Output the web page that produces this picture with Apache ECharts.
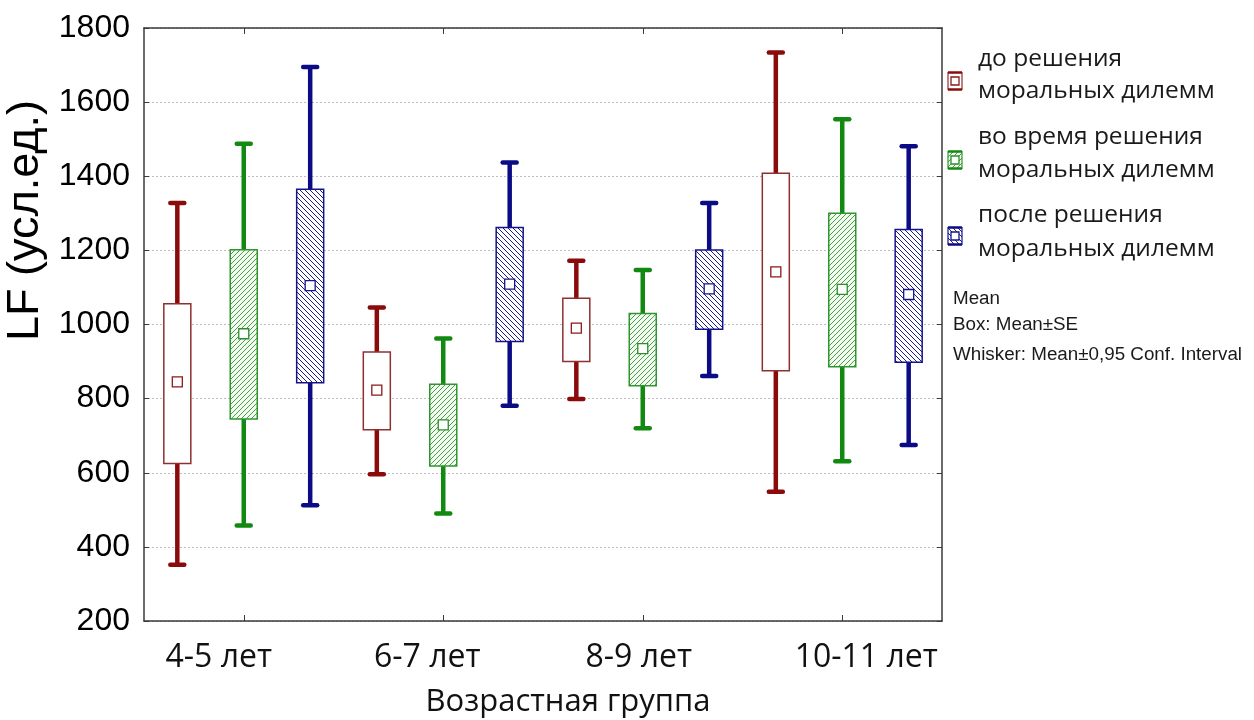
<!DOCTYPE html>
<html>
<head>
<meta charset="utf-8">
<title>LF по возрастным группам</title>
<script src="https://cdn.jsdelivr.net/npm/echarts@6/dist/echarts.min.js"></script>
<style>
  html, body { margin: 0; padding: 0; background: #ffffff; }
  #chart { width: 1254px; height: 720px; }
</style>
</head>
<body>
<div id="chart"></div>
<script>
// Age groups on the category axis
const ageGroups = ['4-5 лет', '6-7 лет', '8-9 лет', '10-11 лет'];

// Condition names (legend)
const conditionNames = [
  ['до решения', 'моральных дилемм'],
  ['во время решения', 'моральных дилемм'],
  ['после решения', 'моральных дилемм']
];

// Each row: [mean − 0.95 CI, mean − SE, mean, mean + SE, mean + 0.95 CI]
const beforeStats = [
  [352, 625, 845, 1056, 1328],
  [596, 716, 823, 926, 1046],
  [799, 900, 990, 1071, 1172],
  [549, 875, 1142, 1408, 1734]
];
const duringStats = [
  [458, 745, 975, 1202, 1488],
  [490, 618, 729, 839, 962],
  [720, 835, 935, 1030, 1147],
  [631, 886, 1095, 1300, 1554]
];
const afterStats = [
  [512, 843, 1105, 1365, 1695],
  [781, 954, 1109, 1262, 1437],
  [861, 987, 1096, 1201, 1328],
  [675, 898, 1081, 1256, 1481]
];

// Value axis range
const yMin = 200;
const yMax = 1800;
const yStep = 200;

const notes = ['Mean', 'Box: Mean±SE', 'Whisker: Mean±0,95 Conf. Interval'];

// ---- styling ----
function hatchCanvas(color, forward, bg) {
  const s = 5;
  const c = document.createElement('canvas');
  c.width = s; c.height = s;
  const g = c.getContext('2d');
  g.fillStyle = bg;
  g.fillRect(0, 0, s, s);
  g.strokeStyle = color;
  g.lineWidth = 1;
  g.beginPath();
  if (forward) {
    g.moveTo(0, s); g.lineTo(s, 0);
    g.moveTo(-1, 1); g.lineTo(1, -1);
    g.moveTo(s - 1, s + 1); g.lineTo(s + 1, s - 1);
  } else {
    g.moveTo(0, 0); g.lineTo(s, s);
    g.moveTo(-1, s - 1); g.lineTo(1, s + 1);
    g.moveTo(s - 1, -1); g.lineTo(s + 1, 1);
  }
  g.stroke();
  return c;
}

const styles = [
  { whisker: '#8b0b0b', box: '#8e3030', fill: '#ffffff', mean: '#8b1a1a' },
  { whisker: '#128a12', box: '#2f952f', fill: { image: hatchCanvas('#47a047', true, '#f4fbf0'), repeat: 'repeat' }, mean: '#2a8f2a' },
  { whisker: '#0b0b86', box: '#14148a', fill: { image: hatchCanvas('#1c1c8c', false, '#ffffff'), repeat: 'repeat' }, mean: '#14148a' }
];

function makeRenderer(k) {
  const st = styles[k];
  return function (params, api) {
    const cat = api.value(0);
    const band = api.size([1, 0])[0];
    const xc = api.coord([cat, yMin])[0] + (k - 1) * band * 0.333;
    const yy = i => api.coord([cat, api.value(i)])[1];
    const yLo = yy(1), yBoxLo = yy(2), yMean = yy(3), yBoxHi = yy(4), yHi = yy(5);
    const bw = 27, capHalf = 7, ms = 10;
    const wl = { stroke: st.whisker, lineWidth: 4.5, lineCap: 'round' };
    return {
      type: 'group',
      children: [
        { type: 'line', shape: { x1: xc, y1: yHi, x2: xc, y2: yBoxHi }, style: { stroke: st.whisker, lineWidth: 4.5 } },
        { type: 'line', shape: { x1: xc, y1: yBoxLo, x2: xc, y2: yLo }, style: { stroke: st.whisker, lineWidth: 4.5 } },
        { type: 'line', shape: { x1: xc - capHalf, y1: yHi, x2: xc + capHalf, y2: yHi }, style: wl },
        { type: 'line', shape: { x1: xc - capHalf, y1: yLo, x2: xc + capHalf, y2: yLo }, style: wl },
        { type: 'rect', shape: { x: xc - bw / 2, y: yBoxHi, width: bw, height: yBoxLo - yBoxHi },
          style: { fill: st.fill, stroke: st.box, lineWidth: 1.5 } },
        { type: 'rect', shape: { x: xc - ms / 2, y: yMean - ms / 2, width: ms, height: ms },
          style: { fill: '#ffffff', stroke: st.mean, lineWidth: 1.3 } }
      ]
    };
  };
}

const allStats = [beforeStats, duringStats, afterStats];
const series = allStats.map((rows, k) => ({
  type: 'custom',
  name: conditionNames[k].join(' '),
  renderItem: makeRenderer(k),
  encode: { x: 0, y: [1, 2, 3, 4, 5] },
  data: rows.map((r, i) => [i].concat(r)),
  z: 3
}));

// ---- legend drawn as graphics ----
const legendGraphics = [];
const legendRows = [
  { iconY: 81, lineY: [62, 94] },
  { iconY: 160, lineY: [140, 173] },
  { iconY: 236, lineY: [218, 252] }
];
legendRows.forEach((row, k) => {
  const st = styles[k];
  const x0 = 948, w = 14, h = 17, y0 = row.iconY - h / 2;
  legendGraphics.push({
    type: 'group',
    children: [
      { type: 'rect', shape: { x: x0, y: y0, width: w, height: h }, style: { fill: st.fill, stroke: st.box, lineWidth: 1.2 } },
      { type: 'line', shape: { x1: x0, y1: y0, x2: x0 + w, y2: y0 }, style: { stroke: st.whisker, lineWidth: 2.5 } },
      { type: 'line', shape: { x1: x0, y1: y0 + h, x2: x0 + w, y2: y0 + h }, style: { stroke: st.whisker, lineWidth: 2.5 } },
      { type: 'rect', shape: { x: x0 + 3, y: row.iconY - 4, width: 8, height: 8 }, style: { fill: '#ffffff', stroke: st.mean, lineWidth: 1.3 } }
    ]
  });
  conditionNames[k].forEach((line, j) => {
    legendGraphics.push({
      type: 'text', left: 978, top: row.lineY[j] - 15,
      style: { text: line, font: '24.5px "Open Sans", "Noto Sans", sans-serif', fill: '#1a1a1a' }
    });
  });
});
[299, 325, 355].forEach((y, i) => {
  legendGraphics.push({
    type: 'text', left: 953, top: y - 10,
    style: { text: notes[i], font: '18.8px "Liberation Sans", Arial, sans-serif', fill: '#1a1a1a' }
  });
});

// category labels sit slightly off their ticks
const labelPad = [[0, 50, 0, 0], [0, 32, 0, 0], [0, 8, 0, 0], [0, 0, 0, 48]];

const frameLine = { show: true, lineStyle: { color: '#3a3a3a', width: 1.5 } };
const axisFont = '"Open Sans", "Noto Sans", sans-serif';

const option = {
  backgroundColor: '#ffffff',
  animation: false,
  grid: { left: 144, right: 312, top: 28, bottom: 99, containLabel: false, outerBoundsMode: 'none' },
  xAxis: [
    {
      type: 'category', data: ageGroups, position: 'bottom', boundaryGap: true,
      axisLine: frameLine,
      axisTick: { show: true, inside: true, length: 6, alignWithLabel: true, lineStyle: { color: '#3a3a3a' } },
      axisLabel: {
        margin: 21, color: '#111',
        formatter: (v, i) => '{l' + i + '|' + v + '}',
        rich: {
          l0: { fontSize: 32, fontFamily: axisFont, color: '#111', padding: labelPad[0] },
          l1: { fontSize: 32, fontFamily: axisFont, color: '#111', padding: labelPad[1] },
          l2: { fontSize: 32, fontFamily: axisFont, color: '#111', padding: labelPad[2] },
          l3: { fontSize: 32, fontFamily: axisFont, color: '#111', padding: labelPad[3] }
        }
      },
      splitLine: { show: false },
      name: 'Возрастная группа', nameLocation: 'middle', nameGap: 66,
      nameTextStyle: { fontSize: 31, fontFamily: axisFont, color: '#111', padding: [0, 0, 0, 50] }
    },
    {
      type: 'category', data: ageGroups, position: 'top', boundaryGap: true,
      axisLine: frameLine,
      axisTick: { show: true, inside: true, length: 6, alignWithLabel: true, lineStyle: { color: '#3a3a3a' } },
      axisLabel: { show: false }, splitLine: { show: false }
    }
  ],
  yAxis: [
    {
      type: 'value', min: yMin, max: yMax, interval: yStep, position: 'left',
      axisLine: frameLine,
      axisTick: { show: true, inside: true, length: 5, lineStyle: { color: '#3a3a3a' } },
      axisLabel: { margin: 14, fontSize: 32, fontFamily: '"Liberation Sans", Arial, sans-serif', color: '#000',
        formatter: v => String(v) },
      splitLine: { show: true, lineStyle: { color: '#bdbdbd', type: [2, 2], width: 1 } },
      name: 'LF (усл.ед.)', nameLocation: 'middle', nameRotate: 90, nameGap: 96,
      nameTextStyle: { fontSize: 45, fontFamily: '"Liberation Sans", Arial, sans-serif', color: '#000', padding: [0, 0, 0, 208] }
    },
    {
      type: 'value', min: yMin, max: yMax, interval: yStep, position: 'right',
      axisLine: frameLine,
      axisTick: { show: true, inside: true, length: 5, lineStyle: { color: '#3a3a3a' } },
      axisLabel: { show: false }, splitLine: { show: false }
    }
  ],
  graphic: legendGraphics,
  series: series
};

const chart = echarts.init(document.getElementById('chart'), null, { renderer: 'canvas' });
chart.setOption(option);
</script>
</body>
</html>
